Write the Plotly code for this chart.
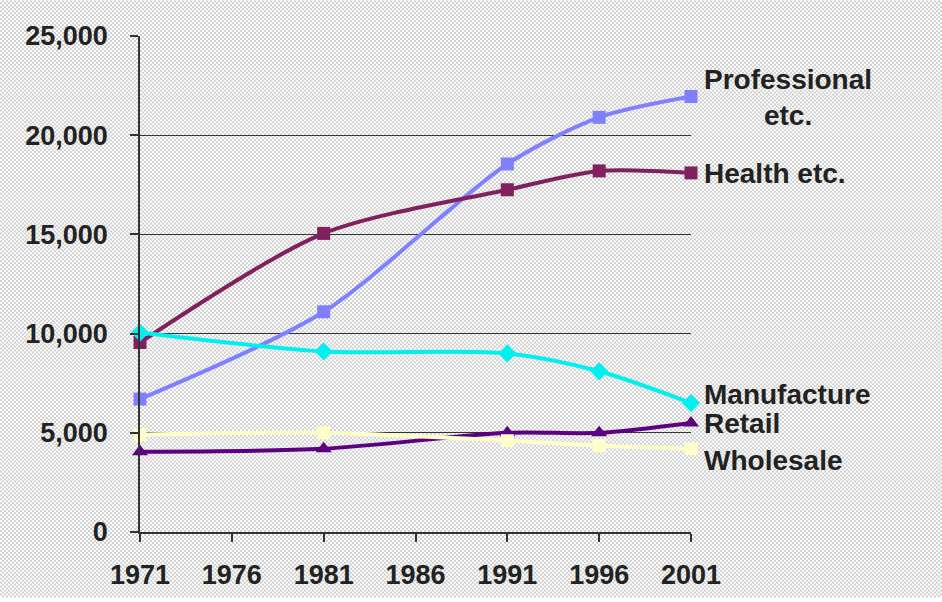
import base64, struct, zlib
import plotly.graph_objects as go

# ---- data ----
years = [1971, 1981, 1991, 1996, 2001]
professional = [6700, 11100, 18550, 20900, 21950]
health = [9550, 15050, 17250, 18200, 18100]
manufacture = [10050, 9100, 9000, 8100, 6500]
retail = [4050, 4200, 5000, 5000, 5500]
wholesale = [4900, 5000, 4600, 4350, 4200]
x_ticks = [1971, 1976, 1981, 1986, 1991, 1996, 2001]
y_ticks = [0, 5000, 10000, 15000, 20000, 25000]

W, H = 942, 602
ML, MR, MT, MB = 140, 251, 36, 66
PW, PH = W - ML - MR, H - MT - MB


def checker_png(w, h, cell, c1, c2):
    rowA = bytearray([0]) + bytearray(c1 if (x // cell) % 2 == 0 else c2 for x in range(w))
    rowB = bytearray([0]) + bytearray(c2 if (x // cell) % 2 == 0 else c1 for x in range(w))
    raw = bytearray()
    for y in range(h):
        raw += rowA if (y // cell) % 2 == 0 else rowB

    def chunk(t, d):
        c = struct.pack(">I", len(d)) + t + d
        return c + struct.pack(">I", zlib.crc32(t + d) & 0xFFFFFFFF)

    png = b"\x89PNG\r\n\x1a\n"
    png += chunk(b"IHDR", struct.pack(">IIBBBBB", w, h, 8, 0, 0, 0, 0))
    png += chunk(b"IDAT", zlib.compress(bytes(raw), 9))
    png += chunk(b"IEND", b"")
    return "data:image/png;base64," + base64.b64encode(png).decode()


bg = checker_png(W, H, 2, 255, 208)

FONT = "Arial, Liberation Sans, Helvetica, sans-serif"

series = [
    ("Professional etc.", professional, "#8080ff", "square", 13),
    ("Health etc.", health, "#80205f", "square", 13),
    ("Manufacture", manufacture, "#00f0f0", "diamond", 14),
    ("Retail", retail, "#5c0080", "triangle-up", 14),
    ("Wholesale", wholesale, "#ffffcc", "square", 13),
]

fig = go.Figure()
for name, vals, col, sym, sz in series:
    fig.add_trace(go.Scatter(
        x=years, y=vals, name=name, mode="lines+markers",
        line=dict(color=col, width=4, shape="spline", smoothing=0.8),
        marker=dict(color=col, symbol=sym, size=sz, line=dict(width=0)),
        cliponaxis=False, showlegend=False, hoverinfo="skip",
    ))

ann_font = dict(family=FONT, size=28, color="#222222", weight="bold")
labels = [
    ("Professional<br>etc.", 21900),
    ("Health etc.", 18050),
    ("Manufacture", 6950),
    ("Retail", 5450),
    ("Wholesale", 3600),
]
for text, yv in labels:
    fig.add_annotation(x=2001, y=yv, xref="x", yref="y", text=text,
                       showarrow=False, xanchor="left", yanchor="middle",
                       xshift=11, align="center", font=ann_font)

fig.add_layout_image(dict(
    source=bg, xref="paper", yref="paper",
    x=-ML / PW, y=1 + MT / PH, sizex=W / PW, sizey=H / PH,
    xanchor="left", yanchor="top", sizing="stretch", layer="below",
))

tick_font = dict(family=FONT, size=27, color="#222222", weight="bold")
fig.update_layout(
    width=W, height=H,
    margin=dict(l=ML, r=MR, t=MT, b=MB, pad=0),
    paper_bgcolor="rgba(0,0,0,0)", plot_bgcolor="rgba(0,0,0,0)",
    hovermode=False,
    xaxis=dict(range=[1971, 2001], tickvals=x_ticks, showgrid=False,
               zeroline=False, showline=True, linecolor="#333333", linewidth=1.5,
               ticks="outside", ticklen=8, tickcolor="#333333", tickwidth=1.5,
               tickfont=tick_font, ticklabelstandoff=10),
    yaxis=dict(range=[0, 25000], tickvals=y_ticks, tickformat=",d",
               showgrid=True, gridcolor="#333333", gridwidth=1,
               zeroline=False, showline=True, linecolor="#333333", linewidth=1.5,
               ticks="outside", ticklen=8, tickcolor="#333333", tickwidth=1.5,
               tickfont=tick_font, ticklabelstandoff=17),
)

fig.write_html(
    "out.html",
    config={"displayModeBar": False},
    post_script="document.body.style.margin='0';document.body.style.overflow='hidden';",
)
